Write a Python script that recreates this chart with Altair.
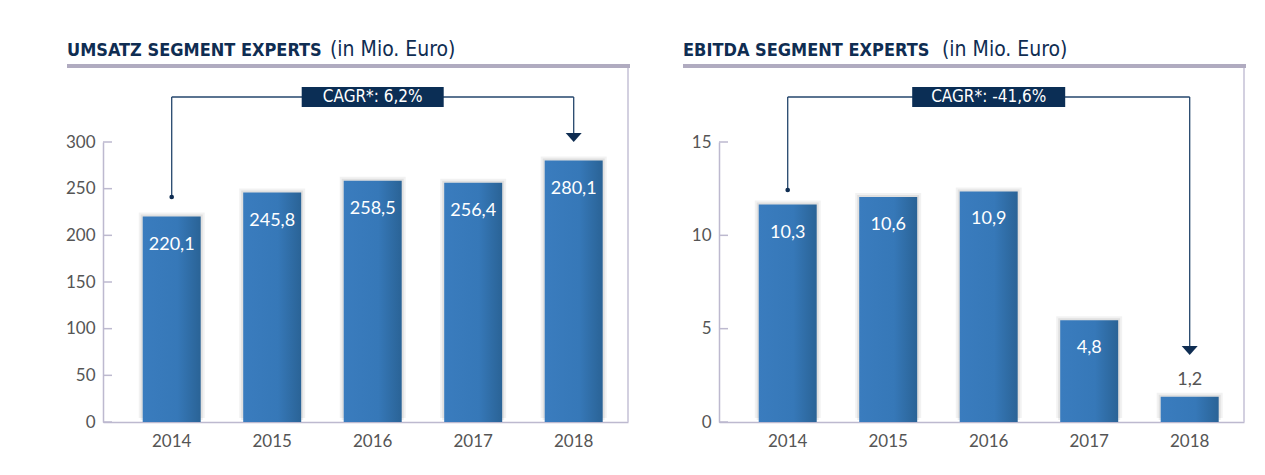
import altair as alt
import pandas as pd

years = ["2014", "2015", "2016", "2017", "2018"]

umsatz_values = [220.1, 245.8, 258.5, 256.4, 280.1]
umsatz_labels = ["220,1", "245,8", "258,5", "256,4", "280,1"]
umsatz_ticks = [0, 50, 100, 150, 200, 250, 300]

# bar heights as drawn in the picture (labels as printed)
ebitda_values = [11.65, 12.05, 12.35, 5.45, 1.35]
ebitda_labels = ["10,3", "10,6", "10,9", "4,8", "1,2"]
ebitda_ticks = [0, 5, 10, 15]

NAVY = "#0f2d52"
FONT = "Lato"
TFONT = "'Liberation Sans Narrow', 'DejaVu Sans Condensed', Lato"
W, H = 525, 280


def panel(values, labels, ticks, ymax, title_bold, title_rest, rest_x, cagr_text,
          box_w, dot_y, arrow_y):
    df = pd.DataFrame({"year": years, "value": values, "label": labels})
    base = alt.Chart(df)
    xs = alt.X("year:O", scale=alt.Scale(paddingInner=0, paddingOuter=0.112, align=0.82),
               axis=alt.Axis(title=None, labelAngle=0, ticks=False, domainColor="#bdb9cf",
                             domainWidth=1.5, labelColor="#555555", labelFontSize=17,
                             labelFont=FONT, labelPadding=11, grid=False,
                             labelAlign="center", labelBaseline="top"))
    ys = alt.Y("value:Q", scale=alt.Scale(domain=[0, ymax], nice=False, zero=True),
               axis=alt.Axis(title=None, values=ticks, ticks=False, grid=False,
                             domainColor="#bdb9cf", domainWidth=1.5, labelColor="#555555",
                             labelFontSize=17, labelFont=FONT, labelPadding=8))

    grad = alt.Gradient(gradient="linear", x1=0, x2=1, y1=0, y2=0,
                        stops=[alt.GradientStop(color="#3a7cbe", offset=0),
                               alt.GradientStop(color="#3678b8", offset=0.6),
                               alt.GradientStop(color="#2a6396", offset=1)])

    shadow1 = base.mark_bar(size=66, color="#000000", opacity=0.05, yOffset=-4).encode(
        x="year:O", y="value:Q")
    shadow2 = base.mark_bar(size=62, color="#000000", opacity=0.07, yOffset=-2).encode(
        x="year:O", y="value:Q")
    bars = base.mark_bar(size=58, color=grad).encode(x=xs, y=ys)

    thr = ymax * 0.15
    lab_in = base.transform_filter(alt.datum.value >= thr).mark_text(
        dy=28, color="white", fontSize=18, font=FONT, baseline="middle"
    ).encode(x="year:O", y="value:Q", text="label:N")
    lab_out = base.transform_filter(alt.datum.value < thr).mark_text(
        dy=-17, color="#555555", fontSize=18, font=FONT, baseline="middle"
    ).encode(x="year:O", y="value:Q", text="label:N")

    tick_df = pd.DataFrame({"value": ticks})
    tick_marks = alt.Chart(tick_df).mark_rule(color="#bdb9cf", strokeWidth=1.5).encode(
        y="value:Q", x=alt.value(0), x2=alt.value(9))

    one = alt.Data(values=[{"a": 1}])
    underline = alt.Chart(one).mark_rule(color="#b0abc0", strokeWidth=4).encode(
        x=alt.value(-36), x2=alt.value(527), y=alt.value(-76))
    frame = alt.Chart(one).mark_rule(color="#d3d0e0", strokeWidth=2).encode(
        x=alt.value(525), y=alt.value(-74), y2=alt.value(280))
    t1 = alt.Chart(one).mark_text(align="left", baseline="alphabetic", fontSize=18,
                                  fontWeight="bold", font=TFONT, color=NAVY).encode(
        x=alt.value(-36), y=alt.value(-86), text=alt.value(title_bold))
    t2 = alt.Chart(one).mark_text(align="left", baseline="alphabetic", fontSize=21,
                                  fontWeight="normal", font=TFONT, color=NAVY).encode(
        x=alt.value(rest_x), y=alt.value(-86), text=alt.value(title_rest))

    first = pd.DataFrame({"year": [years[0]]})
    last = pd.DataFrame({"year": [years[-1]]})
    mid = pd.DataFrame({"year": [years[2]]})
    span = pd.DataFrame({"year": [years[0]], "year2": [years[-1]]})
    LC = "#24466c"
    v1 = alt.Chart(first).mark_rule(color=LC, strokeWidth=1.3).encode(
        x="year:O", y=alt.value(dot_y), y2=alt.value(-45))
    hz = alt.Chart(span).mark_rule(color=LC, strokeWidth=1.3).encode(
        x="year:O", x2="year2", y=alt.value(-45))
    v2 = alt.Chart(last).mark_rule(color=LC, strokeWidth=1.3).encode(
        x="year:O", y=alt.value(-45), y2=alt.value(arrow_y - 4))
    dot = alt.Chart(first).mark_point(shape="circle", filled=True, size=22, color=NAVY,
                                      opacity=1).encode(x="year:O", y=alt.value(dot_y))
    arrow = alt.Chart(last).mark_point(shape="M-1,-0.56L1,-0.56L0,0.56Z", filled=True,
                                       size=256, color=NAVY, opacity=1).encode(
        x="year:O", y=alt.value(arrow_y))
    box = alt.Chart(mid).mark_bar(size=box_w, color="#0b2e55").encode(
        x="year:O", y=alt.value(-55), y2=alt.value(-35))
    boxt = alt.Chart(mid).mark_text(color="white", fontSize=17, font=TFONT,
                                    baseline="middle").encode(
        x="year:O", y=alt.value(-45), text=alt.value(cagr_text))

    return alt.layer(underline, frame, t1, t2, shadow1, shadow2, bars, lab_in, lab_out,
                     tick_marks, v1, hz, v2, dot, arrow, box, boxt).properties(width=W, height=H)


left = panel(umsatz_values, umsatz_labels, umsatz_ticks, 300,
             "UMSATZ SEGMENT EXPERTS", "(in Mio. Euro)", 227, "CAGR*: 6,2%", 142, 55, -4.5)
right = panel(ebitda_values, ebitda_labels, ebitda_ticks, 15,
              "EBITDA SEGMENT EXPERTS", "(in Mio. Euro)", 223, "CAGR*: -41,6%", 153, 48, 208.5)

chart = alt.hconcat(left, right, spacing=49).properties(
    padding={"left": 57, "top": 31, "right": 5, "bottom": 5},
    background="white",
).configure_view(strokeWidth=0, stroke="transparent").configure_axisX(
    labelPadding=11, labelAngle=0, labelAlign="center", labelBaseline="top"
).configure_axisY(labelPadding=8)

chart.save("out.html", embed_options={"renderer": "svg", "actions": False})
